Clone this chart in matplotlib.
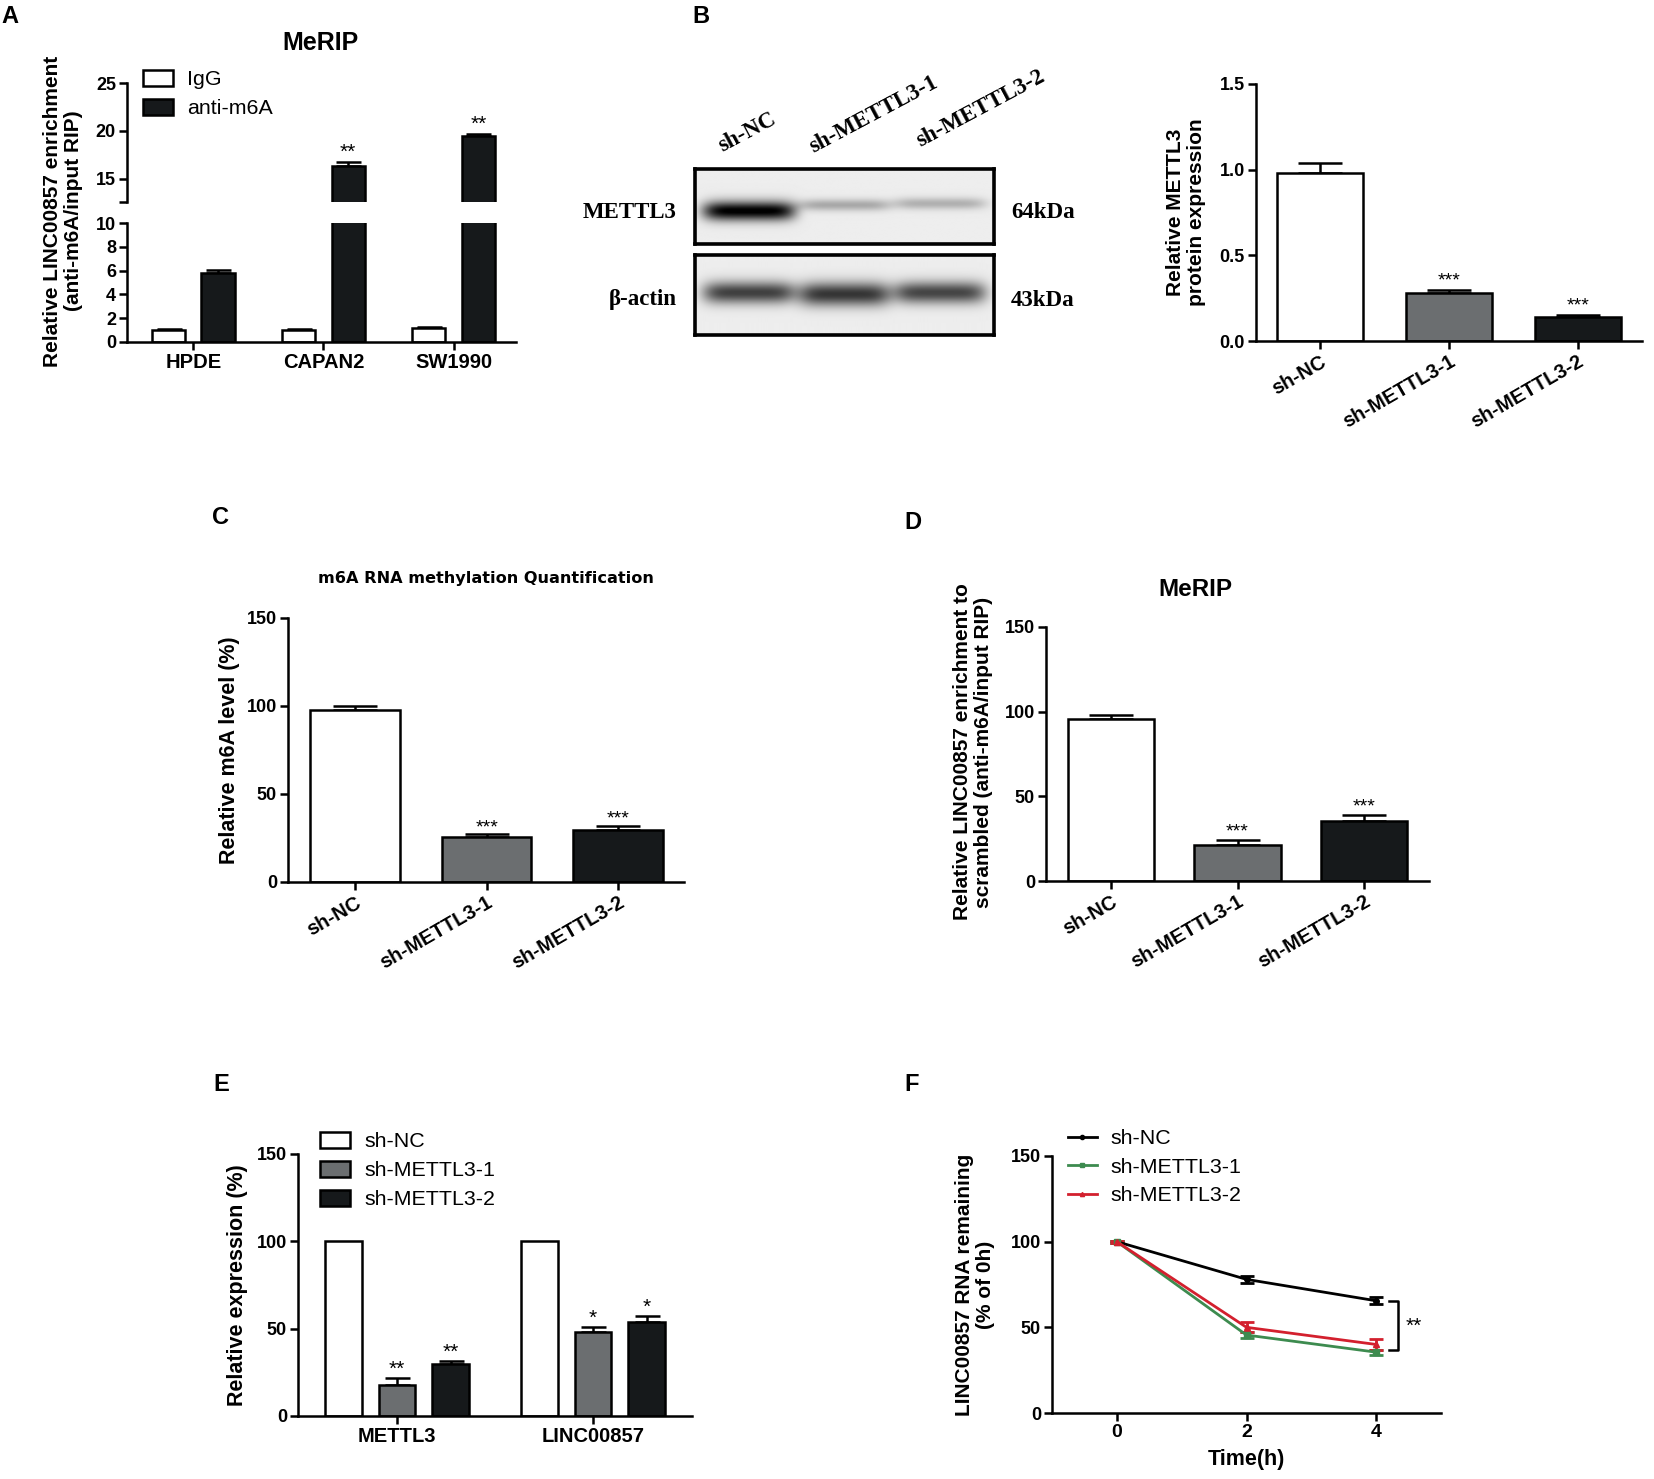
import numpy as np
import matplotlib
matplotlib.use('Agg')
import matplotlib.pyplot as plt
from matplotlib.patches import Patch
from matplotlib.lines import Line2D

plt.rcParams['font.family'] = ['Liberation Sans', 'DejaVu Sans']
plt.rcParams['font.weight'] = 'bold'
plt.rcParams['axes.labelweight'] = 'bold'

# ---- data ----
groups_shrna = ['sh-NC', 'sh-METTL3-1', 'sh-METTL3-2']

# A: MeRIP enrichment
cells_a = ['HPDE', 'CAPAN2', 'SW1990']
igg_a = [1.0, 1.05, 1.15]
igg_a_err = [0.1, 0.08, 0.1]
m6a_a = [5.8, 16.3, 19.5]
m6a_a_err = [0.25, 0.45, 0.2]
stars_a = ['', '**', '**']

# B: western blot band intensities + quantification
blot_mettl3 = [0.95, 0.27, 0.24]
blot_actin = [0.68, 0.72, 0.66]
mettl3_prot = [0.98, 0.28, 0.14]
mettl3_prot_err = [0.06, 0.02, 0.012]
stars_b = ['', '***', '***']

# C: m6A level
m6a_level = [98.0, 25.5, 29.5]
m6a_level_err = [1.8, 1.5, 2.5]
stars_c = ['', '***', '***']

# D: MeRIP relative to scrambled
merip_d = [95.5, 21.5, 35.5]
merip_d_err = [2.5, 3.0, 3.5]
stars_d = ['', '***', '***']

# E: relative expression
genes_e = ['METTL3', 'LINC00857']
expr_nc = [100.0, 100.0]
expr_sh1 = [18.0, 48.0]
expr_sh1_err = [3.5, 3.0]
expr_sh2 = [29.5, 54.0]
expr_sh2_err = [2.0, 3.5]
stars_e1 = ['**', '*']
stars_e2 = ['**', '*']

# F: RNA stability
time_h = [0, 2, 4]
rem_nc = [100.0, 78.0, 65.5]
rem_nc_err = [0.5, 2.0, 2.0]
rem_sh1 = [100.0, 45.5, 35.5]
rem_sh1_err = [0.5, 2.0, 1.5]
rem_sh2 = [100.0, 50.0, 40.0]
rem_sh2_err = [0.5, 3.0, 3.0]

W, H = 1654, 1479
fig = plt.figure(figsize=(W / 100, H / 100), dpi=100)

GRAY = '#6b6e70'
DARK = '#16191b'
LW = 1.8
TICK = 13
XTICK = 14.5
LEG = 15.4


def px(x0, y0, x1, y1):
    return [x0 / W, 1 - y1 / H, (x1 - x0) / W, (y1 - y0) / H]


def style(ax):
    ax.spines[['top', 'right']].set_visible(False)
    for s in ['left', 'bottom']:
        ax.spines[s].set_linewidth(LW)
    ax.tick_params(width=LW, length=6, labelsize=TICK, pad=2)


def up_err(ax, x, y, e, cap):
    ax.errorbar(x, y, yerr=[np.zeros(len(e)), e], fmt='none', ecolor='black',
                elinewidth=LW, capsize=cap, capthick=LW, zorder=1)


def stars(ax, x, y, e, labels, off, size=14):
    for xi, yi, ei, s in zip(x, y, e, labels):
        if s:
            ax.text(xi, yi + ei + off, s, ha='center', va='bottom',
                    fontsize=size, fontweight='normal')


def panel_label(x, y, s):
    fig.text(x / W, 1 - y / H, s, fontsize=17, fontweight='bold', ha='left', va='top')


def ylab(x, y, s, size=15):
    fig.text(x / W, 1 - y / H, s, rotation=90, ha='center', va='center',
             fontsize=size, fontweight='bold', multialignment='center', linespacing=1.1)


def legend_at(ax, handles, labels, x, y, **kw):
    ax.legend(handles, labels, loc='upper left', bbox_to_anchor=(x / W, 1 - y / H),
              bbox_transform=fig.transFigure, frameon=False, borderpad=0, borderaxespad=0,
              prop={'size': LEG, 'weight': 'normal'}, labelspacing=0.45, **kw)


# ---------------- A ----------------
xa = np.arange(3)
bw_a, off_a = 0.255, 0.19
axA_top = fig.add_axes(px(127, 83, 516, 202))
axA_bot = fig.add_axes(px(127, 223, 516, 342))
for ax in (axA_top, axA_bot):
    style(ax)
    ax.bar(xa - off_a, igg_a, bw_a, color='white', edgecolor='black', lw=LW, zorder=2)
    ax.bar(xa + off_a, m6a_a, bw_a, color=DARK, edgecolor='black', lw=LW, zorder=2)
    up_err(ax, xa - off_a, igg_a, igg_a_err, 9)
    up_err(ax, xa + off_a, m6a_a, m6a_a_err, 9)
    ax.set_xlim(-0.51, 2.48)
axA_top.set_ylim(12.6, 25)
axA_top.set_yticks([12.6, 15, 20, 25])
axA_top.set_yticklabels(['', '15', '20', '25'])
axA_top.spines['bottom'].set_visible(False)
axA_top.set_xticks([])
stars(axA_top, xa + off_a, m6a_a, m6a_a_err, stars_a, 0.0, 15)
axA_bot.set_ylim(0, 10)
axA_bot.set_yticks([0, 2, 4, 6, 8, 10])
axA_bot.set_xticks(xa)
axA_bot.set_xticklabels(cells_a, fontsize=XTICK)
legend_at(axA_top, [Patch(fc='white', ec='black', lw=LW), Patch(fc=DARK, ec='black', lw=LW)],
          ['IgG', 'anti-m6A'], 143, 70, handlelength=1.4, handleheight=0.75, handletextpad=0.65)
fig.text(320 / W, 1 - 43 / H, 'MeRIP', ha='center', va='center', fontsize=18, fontweight='bold')
ylab(63, 211, 'Relative LINC00857 enrichment\n(anti-m6A/input RIP)')
panel_label(1, 5, 'A')

# ---------------- B (blot) ----------------
lanes = [0.18, 0.50, 0.82]


def blot_image(intens, yc, sy, wx):
    xx = np.linspace(0, 1, 300)[None, :]
    yy = np.linspace(0, 1, 80)[:, None]
    img = np.full((80, 300), 0.93)
    for c, a, (s, dy) in zip(lanes, intens, sy):
        img = img - a * np.exp(-((xx - c) / wx) ** 6) * np.exp(-((yy - yc - dy) / s) ** 2)
    return np.clip(img, 0, 1)


for box, intens, yc, sy, lab, kda, ly in [
        ((695, 169, 994, 244), blot_mettl3, 0.56,
         [(0.13, 0.0), (0.08, -0.08), (0.08, -0.1)], 'METTL3', '64kDa', 212),
        ((695, 255, 994, 335), blot_actin, 0.47,
         [(0.14, 0.0), (0.15, 0.02), (0.14, 0.0)], 'β-actin', '43kDa', 300)]:
    axb = fig.add_axes(px(*box))
    axb.imshow(blot_image(intens, yc, sy, 0.155), cmap='gray', vmin=0, vmax=1,
               aspect='auto', extent=(0, 1, 1, 0))
    axb.set_xticks([])
    axb.set_yticks([])
    for s in axb.spines.values():
        s.set_linewidth(2.6)
    fig.text(677 / W, 1 - ly / H, lab, ha='right', va='center', fontsize=16.5,
             family='Liberation Serif', fontweight='bold')
    fig.text(1011 / W, 1 - ly / H, kda, ha='left', va='center', fontsize=16.5,
             family='Liberation Serif', fontweight='bold')
for lx, lyy, lab in zip([722, 813, 920], [152, 153, 147], groups_shrna):
    fig.text(lx / W, 1 - lyy / H, lab, rotation=28, rotation_mode='anchor', ha='left',
             va='baseline', fontsize=16.5, family='Liberation Serif', fontweight='bold')
panel_label(692, 5, 'B')

# ---------------- B (bars) ----------------
x3 = np.arange(3)
colors3 = ['white', GRAY, DARK]
axB = fig.add_axes(px(1256, 84, 1642, 341))
style(axB)
axB.bar(x3, mettl3_prot, 0.67, color=colors3, edgecolor='black', lw=LW, zorder=2)
up_err(axB, x3, mettl3_prot, mettl3_prot_err, 16)
stars(axB, x3, mettl3_prot, mettl3_prot_err, stars_b, 0.0)
axB.set_xlim(-0.5, 2.5)
axB.set_ylim(0, 1.5)
axB.set_yticks([0, 0.5, 1.0, 1.5])
axB.set_yticklabels(['0.0', '0.5', '1.0', '1.5'])
axB.set_xticks(x3)
axB.set_xticklabels(groups_shrna, rotation=30, ha='right', rotation_mode='anchor', fontsize=XTICK)
ylab(1186, 212, 'Relative METTL3\nprotein expression')

# ---------------- C ----------------
axC = fig.add_axes(px(288, 618, 684, 882))
style(axC)
axC.bar(x3, m6a_level, 0.68, color=colors3, edgecolor='black', lw=LW, zorder=2)
up_err(axC, x3, m6a_level, m6a_level_err, 16)
stars(axC, x3, m6a_level, m6a_level_err, stars_c, -1.0)
axC.set_xlim(-0.51, 2.5)
axC.set_ylim(0, 150)
axC.set_yticks([0, 50, 100, 150])
axC.set_xticks(x3)
axC.set_xticklabels(groups_shrna, rotation=30, ha='right', rotation_mode='anchor', fontsize=XTICK)
fig.text(486 / W, 1 - 578 / H, 'm6A RNA methylation Quantification', ha='center', va='center',
         fontsize=11.6, fontweight='bold', family='DejaVu Sans')
ylab(230, 750, 'Relative m6A level (%)', 15.5)
panel_label(212, 506, 'C')

# ---------------- D ----------------
axD = fig.add_axes(px(1046, 627, 1429, 881))
style(axD)
axD.bar(x3, merip_d, 0.68, color=colors3, edgecolor='black', lw=LW, zorder=2)
up_err(axD, x3, merip_d, merip_d_err, 16)
stars(axD, x3, merip_d, merip_d_err, stars_d, -0.5)
axD.set_xlim(-0.51, 2.51)
axD.set_ylim(0, 150)
axD.set_yticks([0, 50, 100, 150])
axD.set_xticks(x3)
axD.set_xticklabels(groups_shrna, rotation=30, ha='right', rotation_mode='anchor', fontsize=XTICK)
fig.text(1195 / W, 1 - 590 / H, 'MeRIP', ha='center', va='center', fontsize=17.5, fontweight='bold')
ylab(973, 752, 'Relative LINC00857 enrichment to\nscrambled (anti-m6A/input RIP)', 15)
panel_label(904, 511, 'D')

# ---------------- E ----------------
xe = np.arange(2)
bw_e, off_e = 0.184, 0.273
axE = fig.add_axes(px(298, 1154, 692, 1416))
style(axE)
axE.bar(xe - off_e, expr_nc, bw_e, color='white', edgecolor='black', lw=LW, zorder=2)
axE.bar(xe, expr_sh1, bw_e, color=GRAY, edgecolor='black', lw=LW, zorder=2)
axE.bar(xe + off_e, expr_sh2, bw_e, color=DARK, edgecolor='black', lw=LW, zorder=2)
up_err(axE, xe, expr_sh1, expr_sh1_err, 9)
up_err(axE, xe + off_e, expr_sh2, expr_sh2_err, 9)
stars(axE, xe, expr_sh1, expr_sh1_err, stars_e1, -0.5, 15)
stars(axE, xe + off_e, expr_sh2, expr_sh2_err, stars_e2, -0.5, 15)
axE.set_xlim(-0.505, 1.505)
axE.set_ylim(0, 150)
axE.set_yticks([0, 50, 100, 150])
axE.set_xticks(xe)
axE.set_xticklabels(genes_e, fontsize=XTICK)
legend_at(axE, [Patch(fc='white', ec='black', lw=LW), Patch(fc=GRAY, ec='black', lw=LW),
                Patch(fc=DARK, ec='black', lw=LW)], groups_shrna, 320, 1132,
          handlelength=1.4, handleheight=0.75, handletextpad=0.7)
ylab(237, 1285, 'Relative expression (%)', 15.5)
panel_label(213, 1073, 'E')

# ---------------- F ----------------
axF = fig.add_axes(px(1052, 1156, 1441, 1413))
style(axF)
line_cols = ['black', '#3d8b4f', '#d3202e']
line_marks = ['o', 's', '^']
for y, e, c, m in zip([rem_nc, rem_sh1, rem_sh2], [rem_nc_err, rem_sh1_err, rem_sh2_err],
                      line_cols, line_marks):
    axF.errorbar(time_h, y, yerr=e, color=c, lw=2, marker=m, ms=4, capsize=5, capthick=2,
                 elinewidth=2)
axF.set_xlim(-1, 5)
axF.set_ylim(0, 150)
axF.set_xticks([0, 2, 4])
axF.set_yticks([0, 50, 100, 150])
axF.tick_params(axis='x', labelsize=14)
# significance bracket at the last time point
bx0, bx1 = time_h[-1] + 0.2, time_h[-1] + 0.34
axF.plot([bx0, bx1, bx1, bx0], [rem_nc[-1], rem_nc[-1], rem_sh1[-1] + 1, rem_sh1[-1] + 1],
         color='black', lw=1.8, clip_on=False)
axF.text(bx1 + 0.12, (rem_nc[-1] + rem_sh1[-1]) / 2, '**', ha='left', va='center',
         fontsize=15, fontweight='normal')
axF.set_xlabel('Time(h)', fontsize=15.5, labelpad=6)
legend_at(axF, [Line2D([], [], color=c, lw=2, marker=m, ms=3) for c, m in zip(line_cols, line_marks)],
          groups_shrna, 1068, 1129, handlelength=1.35, handletextpad=0.65)
ylab(975, 1285, 'LINC00857 RNA remaining\n(% of 0h)', 15)
panel_label(904, 1073, 'F')

fig.savefig('out.png', dpi=100)
